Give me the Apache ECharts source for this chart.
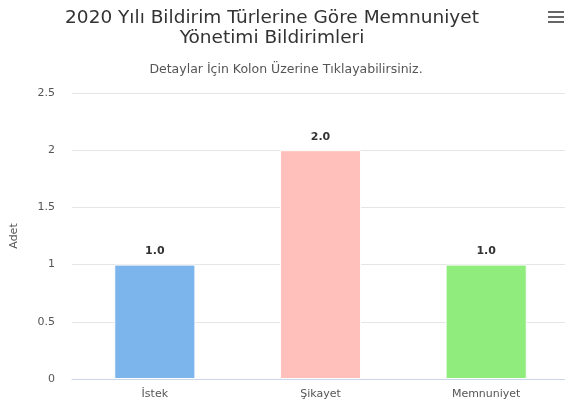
<!DOCTYPE html>
<html>
<head>
<meta charset="utf-8">
<script src="https://cdn.jsdelivr.net/npm/echarts@6/dist/echarts.min.js"></script>
<style>
    html, body { margin: 0; padding: 0; background: #fff; }
    #chart { width: 565px; height: 405px; }
</style>
</head>
<body>
<div id="chart"></div>
<script>
var categories = ['İstek', 'Şikayet', 'Memnuniyet'];
var values = [1, 2, 1];
var barColors = ['#7cb5ec', '#ffc0bb', '#90ed7d'];
var yTicks = [0, 0.5, 1, 1.5, 2, 2.5];

var font = '"DejaVu Sans", Verdana, sans-serif';

var myChart = echarts.init(document.getElementById('chart'));

var option = {
    animation: false,
    textStyle: { fontFamily: font },
    title: [
        {
            text: '2020 Yılı Bildirim Türlerine Göre Memnuniyet\nYönetimi Bildirimleri',
            left: 267,
            top: 3,
            textAlign: 'center',
            textStyle: {
                fontFamily: font,
                fontSize: 18.5,
                fontWeight: 'normal',
                color: '#333333',
                lineHeight: 20
            }
        },
        {
            text: 'Detaylar İçin Kolon Üzerine Tıklayabilirsiniz.',
            left: 281,
            top: 58,
            textAlign: 'center',
            textStyle: {
                fontFamily: font,
                fontSize: 12.5,
                fontWeight: 'normal',
                color: '#555555'
            }
        }
    ],
    graphic: [
        // menu icon (top right)
        { type: 'rect', shape: { x: 548, y: 11, width: 16, height: 2 }, style: { fill: '#666666' } },
        { type: 'rect', shape: { x: 548, y: 16, width: 16, height: 2 }, style: { fill: '#666666' } },
        { type: 'rect', shape: { x: 548, y: 21, width: 16, height: 2 }, style: { fill: '#666666' } }
    ],
    grid: {
        left: 72,
        top: 93,
        right: -4,
        bottom: 26,
        outerBoundsMode: 'none'
    },
    xAxis: {
        type: 'category',
        data: categories,
        axisLine: { lineStyle: { color: '#ccd6eb' } },
        axisTick: { length: 10, lineStyle: { color: '#c6d0e4' } },
        axisLabel: { color: '#555555', fontSize: 11, margin: 10 }
    },
    yAxis: {
        type: 'value',
        name: 'Adet',
        nameLocation: 'middle',
        nameGap: 52,
        nameRotate: 90,
        nameTextStyle: { color: '#555555', fontSize: 11 },
        min: yTicks[0],
        max: yTicks[yTicks.length - 1],
        interval: 0.5,
        axisLine: { show: false },
        axisTick: { show: false },
        axisLabel: { color: '#555555', fontSize: 11, margin: 17 },
        splitLine: { lineStyle: { color: '#e6e6e6' } }
    },
    series: [
        {
            type: 'bar',
            barWidth: '49%',
            data: values.map(function (v, i) {
                return { value: v, itemStyle: { color: barColors[i] } };
            }),
            itemStyle: { borderColor: '#ffffff', borderWidth: 1 },
            label: {
                show: true,
                position: 'top',
                distance: 8,
                color: '#333333',
                fontSize: 11,
                fontWeight: 'bold',
                formatter: function (p) { return p.value.toFixed(1); }
            }
        }
    ]
};

myChart.setOption(option);
</script>
</body>
</html>
